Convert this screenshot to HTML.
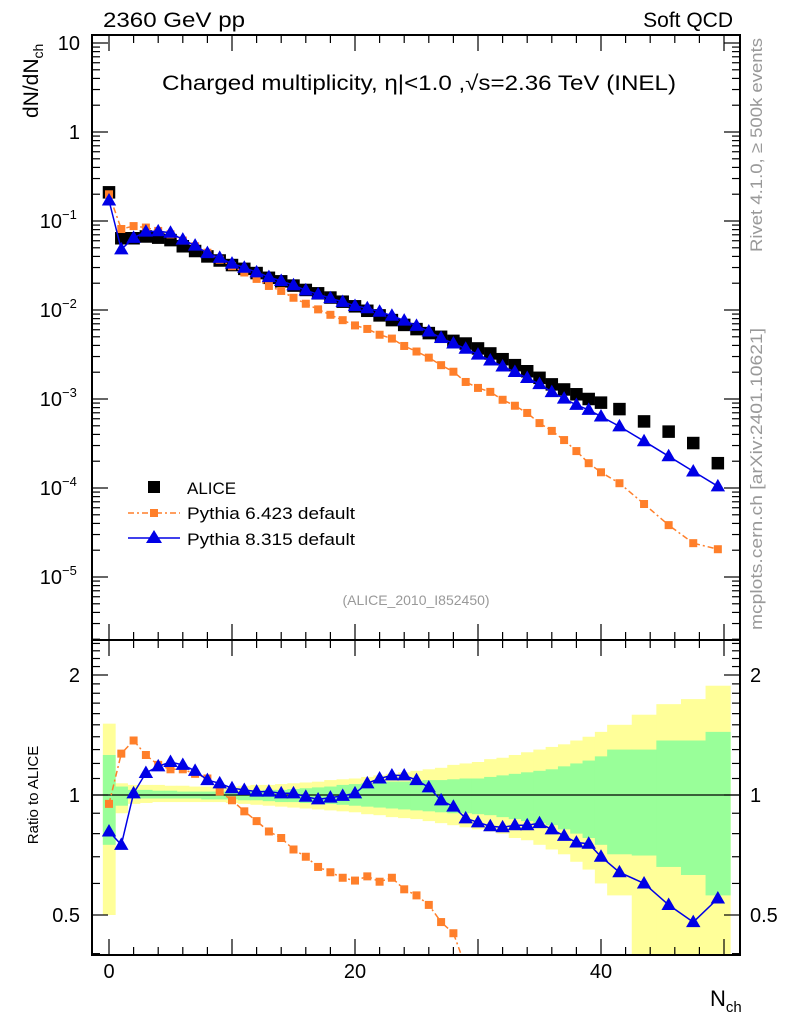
<!DOCTYPE html>
<html><head><meta charset="utf-8"><style>
html,body{margin:0;padding:0;background:#fff;width:786px;height:1024px;overflow:hidden;position:relative;}
svg{position:absolute;left:0;top:0;overflow:hidden;font-family:"Liberation Sans",sans-serif;}
</style></head><body>
<svg id="plot" width="786" height="1024" viewBox="0 0 786 1024"></svg>
<script>
const xs = [0,1,2,3,4,5,6,7,8,9,10,11,12,13,14,15,16,17,18,19,20,21,22,23,24,25,26,27,28,29,30,31,32,33,34,35,36,37,38,39,40,41.5,43.5,45.5,47.5,49.5];
const binLo = [-0.5,0.5,1.5,2.5,3.5,4.5,5.5,6.5,7.5,8.5,9.5,10.5,11.5,12.5,13.5,14.5,15.5,16.5,17.5,18.5,19.5,20.5,21.5,22.5,23.5,24.5,25.5,26.5,27.5,28.5,29.5,30.5,31.5,32.5,33.5,34.5,35.5,36.5,37.5,38.5,39.5,40.5,42.5,44.5,46.5,48.5];
const binHi = [0.5,1.5,2.5,3.5,4.5,5.5,6.5,7.5,8.5,9.5,10.5,11.5,12.5,13.5,14.5,15.5,16.5,17.5,18.5,19.5,20.5,21.5,22.5,23.5,24.5,25.5,26.5,27.5,28.5,29.5,30.5,31.5,32.5,33.5,34.5,35.5,36.5,37.5,38.5,39.5,40.5,42.5,44.5,46.5,48.5,50.5];
const alice = [0.21,0.064,0.064,0.067,0.065,0.061,0.052,0.046,0.040,0.036,0.032,0.029,0.026,0.023,0.021,0.0188,0.0168,0.0154,0.0138,0.0124,0.0110,0.0098,0.0087,0.0077,0.0068,0.0061,0.0055,0.0050,0.0045,0.0042,0.0037,0.00325,0.0028,0.0024,0.00205,0.00173,0.00146,0.00128,0.00113,0.00100,0.00091,0.00077,0.00056,0.00043,0.00032,0.00019];
const py6Ratio = [0.95,1.27,1.37,1.26,1.19,1.16,1.16,1.13,1.10,1.02,0.97,0.91,0.86,0.81,0.78,0.73,0.70,0.66,0.64,0.62,0.61,0.625,0.606,0.62,0.58,0.56,0.53,0.48,0.45,0.37,0.36,0.37,0.35,0.35,0.34,0.31,0.30,0.27,0.23,0.19,0.165,0.147,0.118,0.089,0.075,0.108];
const py8Ratio = [0.81,0.75,1.01,1.136,1.18,1.21,1.19,1.15,1.09,1.07,1.04,1.03,1.02,1.02,1.01,1.01,0.99,0.975,0.985,0.995,1.01,1.07,1.10,1.12,1.12,1.09,1.045,0.97,0.935,0.874,0.854,0.835,0.83,0.84,0.84,0.85,0.82,0.79,0.76,0.755,0.70,0.64,0.60,0.53,0.48,0.55];
const yelHi = [1.51,1.07,1.06,1.06,1.06,1.055,1.055,1.05,1.05,1.05,1.05,1.055,1.06,1.06,1.065,1.07,1.075,1.08,1.09,1.095,1.10,1.11,1.12,1.13,1.14,1.15,1.16,1.17,1.19,1.20,1.21,1.23,1.24,1.26,1.28,1.30,1.32,1.34,1.37,1.40,1.44,1.50,1.59,1.69,1.74,1.88];
const yelLo = [0.50,0.90,0.95,0.955,0.96,0.96,0.96,0.96,0.96,0.96,0.955,0.95,0.945,0.94,0.935,0.93,0.925,0.92,0.915,0.91,0.905,0.895,0.89,0.88,0.875,0.87,0.86,0.85,0.84,0.83,0.82,0.81,0.80,0.78,0.77,0.75,0.73,0.71,0.68,0.65,0.60,0.56,0.39,0.38,0.38,0.38];
const grnHi = [1.26,1.05,1.03,1.03,1.025,1.025,1.02,1.02,1.02,1.02,1.02,1.02,1.025,1.03,1.03,1.035,1.04,1.045,1.05,1.06,1.065,1.07,1.075,1.08,1.08,1.085,1.09,1.09,1.095,1.10,1.10,1.11,1.12,1.13,1.14,1.15,1.16,1.18,1.20,1.22,1.25,1.30,1.30,1.37,1.37,1.44];
const grnLo = [0.75,0.94,0.98,0.98,0.98,0.98,0.98,0.98,0.975,0.975,0.975,0.97,0.97,0.965,0.96,0.96,0.955,0.95,0.95,0.945,0.94,0.935,0.93,0.925,0.92,0.915,0.91,0.905,0.90,0.90,0.895,0.89,0.88,0.87,0.86,0.85,0.84,0.82,0.80,0.78,0.75,0.71,0.705,0.66,0.63,0.56];
const xTicks = [0,20,40];
const mainTickExp = [1,0,-1,-2,-3,-4,-5];
const ratioTicks = [0.5,1,2];

const NS="http://www.w3.org/2000/svg";
const svg=document.getElementById('plot');
const L=92,R=740,T=35,MB=640,RB=955;
function X(n){return 109+12.3*n;}
function Ym(v){return 132-89*Math.log10(v);}
function Yr(r){return 795-120*Math.log2(r);}
function el(tag,attrs,parent){const e=document.createElementNS(NS,tag);for(const k in attrs)e.setAttribute(k,attrs[k]);(parent||svg).appendChild(e);return e;}
function txt(s,attrs,parent){const e=el('text',attrs,parent);e.textContent=s;return e;}

const defs=el('defs',{});
const c1=el('clipPath',{id:'cm'},defs);el('rect',{x:L,y:T,width:R-L,height:MB-T},c1);
const c2=el('clipPath',{id:'cr'},defs);el('rect',{x:L,y:MB,width:R-L,height:RB-MB},c2);

const bands=el('g',{'clip-path':'url(#cr)'});


for(let i=0;i<xs.length;i++){
  const r=el('rect',{x:X(binLo[i]),y:Yr(yelHi[i]),width:X(binHi[i])-X(binLo[i])+0.5,height:Yr(yelLo[i])-Yr(yelHi[i]),fill:'#ffff99'},bands);
  
  
}
for(let i=0;i<xs.length;i++){
  const r=el('rect',{x:X(binLo[i]),y:Yr(grnHi[i]),width:X(binHi[i])-X(binLo[i])+0.5,height:Yr(grnLo[i])-Yr(grnHi[i]),fill:'#99ff99'},bands);
  
  
}
el('line',{x1:L,x2:R,y1:Yr(1),y2:Yr(1),stroke:'#000','stroke-width':1.2},bands);

for(const [y1,y2,nm] of [[T,MB,'main-frame'],[MB,RB,'ratio-frame']]){
  const f=el('rect',{x:L,y:y1,width:R-L,height:y2-y1,fill:'none',stroke:'#000','stroke-width':2});
  
  
}

const axg=el('g',{stroke:'#000','stroke-width':1.2});
for(let n=0;n<=50;n+=2){
  const big=(n%10===0);const len=big?16:8;
  for(const [yb,dir] of [[T,1],[MB,-1],[MB,1],[RB,-1]]){
    el('line',{x1:X(n),x2:X(n),y1:yb,y2:yb+dir*len},axg);
  }
}
for(let e=-6;e<=1;e++){
  for(let m=1;m<10;m++){
    const v=m*Math.pow(10,e);const y=Ym(v);
    if(y<T||y>MB)continue;
    const len=m===1?16:8;
    el('line',{x1:L,x2:L+len,y1:y,y2:y},axg);
    el('line',{x1:R,x2:R-len,y1:y,y2:y},axg);
  }
}
for(let k=4;k<=24;k++){
  const v=k/10;const y=Yr(v);
  if(y<MB||y>RB)continue;
  const big=(v===0.5||v===1||v===2);const len=big?16:8;
  el('line',{x1:L,x2:L+len,y1:y,y2:y},axg);
  el('line',{x1:R,x2:R-len,y1:y,y2:y},axg);
}

for(const n of xTicks){
  const t=txt(String(n),{x:X(n),y:978,'font-size':20,'text-anchor':'middle'});
  
  
}
for(const e of mainTickExp){
  const y=Ym(Math.pow(10,e))+7;
  let t;
  if(e===1) t=txt('10',{x:80,y:y,'font-size':20,'text-anchor':'end'});
  else if(e===0) t=txt('1',{x:80,y:y,'font-size':20,'text-anchor':'end'});
  else {
    t=txt('10',{x:62,y:y,'font-size':20,'text-anchor':'end'});
    const s=txt('−'+(-e),{x:62,y:y-9,'font-size':13,'text-anchor':'start'});
    
    
  }
  
  
}
for(const r of ratioTicks){
  const y=Yr(r)+7;
  const a=txt(String(r),{x:80,y:y,'font-size':20,'text-anchor':'end'});
  
  
  const b=txt(String(r),{x:750,y:y,'font-size':20,'text-anchor':'start'});
  
  
}

function series(vals,color,dash,marker,size,nm,clip,yfn){
  const g=el('g',{'clip-path':'url(#'+clip+')'});
  
  
  if(color!=='#000'){
    const pts=vals.map((v,i)=>X(xs[i]).toFixed(1)+','+yfn(v).toFixed(1)).join(' ');
    const pl=el('polyline',{points:pts,fill:'none',stroke:color,'stroke-width':1.5},g);
    if(dash)pl.setAttribute('stroke-dasharray',dash);
  }
  vals.forEach((v,i)=>{
    const cx=X(xs[i]),cy=yfn(v);let m;
    if(marker==='sq') m=el('rect',{x:cx-size/2,y:cy-size/2,width:size,height:size,fill:color},g);
    else m=el('polygon',{points:`${cx},${cy-size*0.62} ${cx-size*0.6},${cy+size*0.42} ${cx+size*0.6},${cy+size*0.42}`,fill:color},g);
    
    
  });
}
const py6=alice.map((a,i)=>a*py6Ratio[i]);
const py8=alice.map((a,i)=>a*py8Ratio[i]);
series(alice,'#000',null,'sq',12.5,'alice-data','cm',Ym);
series(py6,'#ff7f2a','6,3,2,3','sq',8,'pythia6-series','cm',Ym);
series(py8,'#0000e6',null,'tri',12,'pythia8-series','cm',Ym);
series(py6Ratio,'#ff7f2a','6,3,2,3','sq',8,'pythia6-ratio','cr',Yr);
series(py8Ratio,'#0000e6',null,'tri',12,'pythia8-ratio','cr',Yr);

const lg=el('g',{});


el('rect',{x:148,y:481,width:12,height:12,fill:'#000'},lg);
txt('ALICE',{x:187,y:494,'font-size':17},lg);
el('line',{x1:128,x2:180,y1:513,y2:513,stroke:'#ff7f2a','stroke-width':1.5,'stroke-dasharray':'6,3,2,3'},lg);
el('rect',{x:150,y:509,width:8,height:8,fill:'#ff7f2a'},lg);
txt('Pythia 6.423 default',{x:187,y:519,'font-size':17,textLength:168,lengthAdjust:'spacingAndGlyphs'},lg);
el('line',{x1:128,x2:180,y1:538,y2:538,stroke:'#0000e6','stroke-width':1.5},lg);
el('polygon',{points:'154,530 146,543 162,543',fill:'#0000e6'},lg);
txt('Pythia 8.315 default',{x:187,y:545,'font-size':17,textLength:168,lengthAdjust:'spacingAndGlyphs'},lg);

function T2(s,a,nm){const t=txt(s,a);return t;}
T2('2360 GeV pp',{x:103,y:27,'font-size':21,textLength:142,lengthAdjust:'spacingAndGlyphs'},'header-left');
T2('Soft QCD',{x:733,y:27,'font-size':21,'text-anchor':'end'},'header-right');
T2('Charged multiplicity, η|<1.0 ,√s=2.36 TeV (INEL)',{x:162,y:90,'font-size':21,textLength:514,lengthAdjust:'spacingAndGlyphs'},'plot-title');
T2('(ALICE_2010_I852450)',{x:416,y:605,'font-size':14,fill:'#999','text-anchor':'middle'},'analysis-id');
const yl=T2('',{transform:'translate(38,118) rotate(-90)','font-size':21},'y-axis-title');
yl.innerHTML='dN/dN<tspan font-size="14" dy="5">ch</tspan>';
T2('Ratio to ALICE',{transform:'translate(38,795) rotate(-90)','font-size':15,'text-anchor':'middle'},'ratio-axis-title');
const xl=T2('',{x:710,y:1006,'font-size':22},'x-axis-title');
xl.innerHTML='N<tspan font-size="15" dy="6">ch</tspan>';
T2('Rivet 4.1.0, ≥ 500k events',{transform:'translate(762,252) rotate(-90)','font-size':17,fill:'#999',textLength:214,lengthAdjust:'spacingAndGlyphs'},'rivet-label');
T2('mcplots.cern.ch [arXiv:2401.10621]',{transform:'translate(762,630) rotate(-90)','font-size':17,fill:'#999',textLength:302,lengthAdjust:'spacingAndGlyphs'},'mcplots-label');
</script>
</body></html>
